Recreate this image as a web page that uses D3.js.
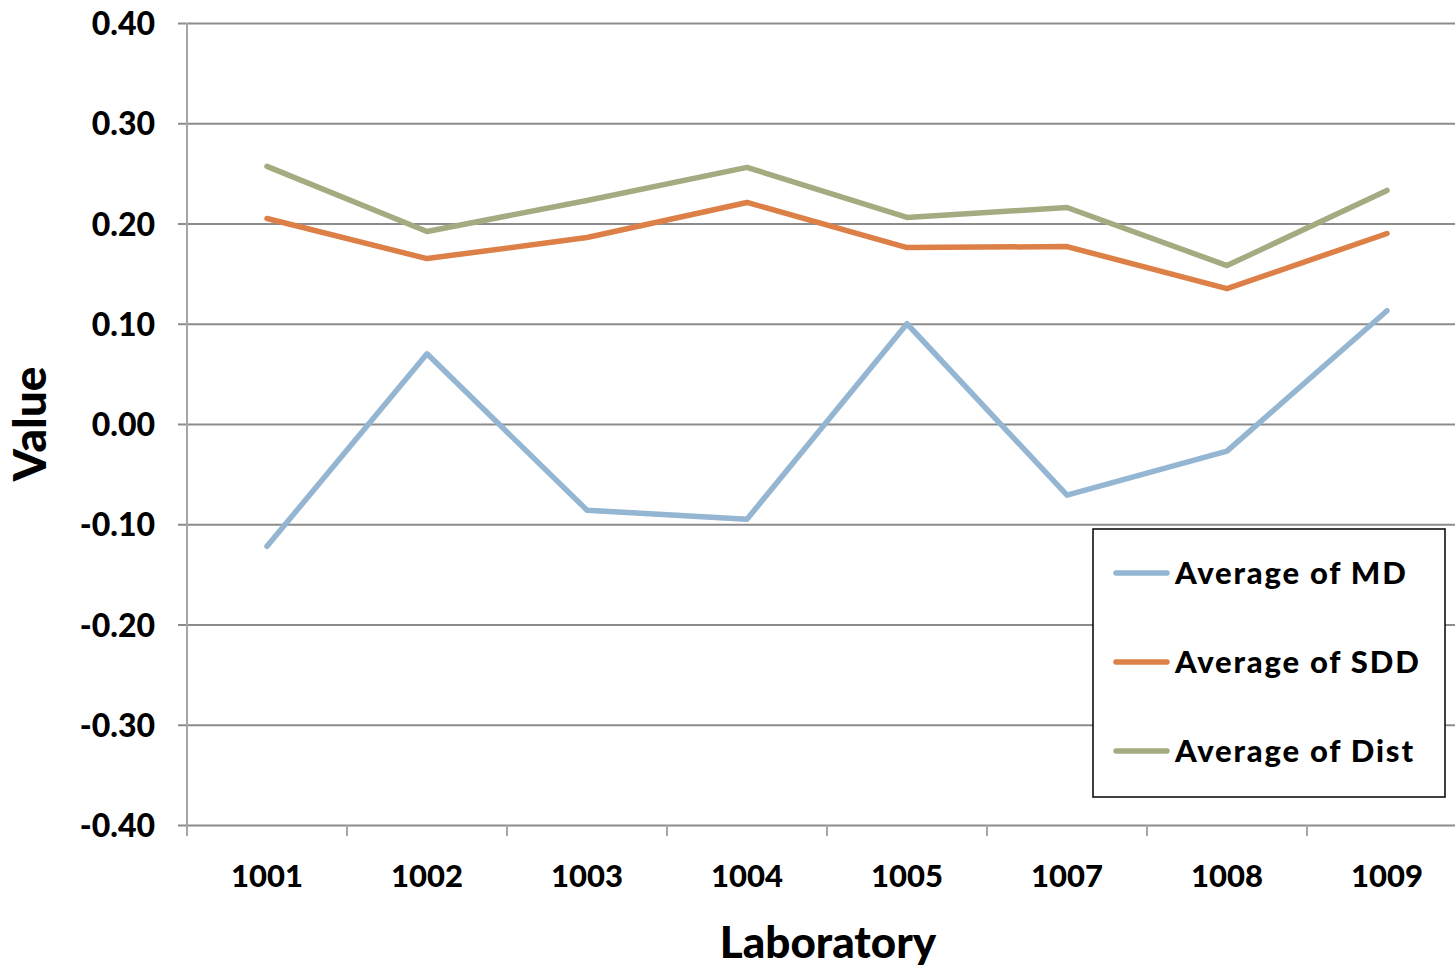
<!DOCTYPE html>
<html>
<head>
<meta charset="utf-8">
<script src="https://cdn.jsdelivr.net/npm/d3@7"></script>
<style>
  body { margin: 0; background: #fff; }
  text { font-family: 'Lato', 'DejaVu Sans', sans-serif; font-weight: 900; fill: #000; }
</style>
</head>
<body>
<div id="viz"></div>
<script>
const width = 1455;
const height = 966;
const margin = {top: 23, right: -12, bottom: 141, left: 187};

// data
const labs = ['1001', '1002', '1003', '1004', '1005', '1007', '1008', '1009'];
const avgMD = [-0.122, 0.070, -0.086, -0.095, 0.100, -0.071, -0.027, 0.113];
const avgSDD = [0.205, 0.165, 0.186, 0.221, 0.176, 0.177, 0.135, 0.190];
const avgDist = [0.257, 0.192, 0.223, 0.256, 0.206, 0.216, 0.158, 0.233];
const yTicks = [-0.4, -0.3, -0.2, -0.1, 0, 0.1, 0.2, 0.3, 0.4];

const series = [
  {name: 'Average of MD', values: avgMD, color: '#94b6d2'},
  {name: 'Average of SDD', values: avgSDD, color: '#dd8047'},
  {name: 'Average of Dist', values: avgDist, color: '#a5ab81'}
];

const svg = d3.select('#viz')
  .append('svg')
    .attr('width', width)
    .attr('height', height);

const xScale = d3.scaleBand()
  .domain(labs)
  .range([margin.left, width - margin.right])
  .padding(0);

const yScale = d3.scaleLinear()
  .domain([-0.4, 0.4])
  .range([height - margin.bottom, margin.top]);

// plain hyphen for negatives, like the original
const fmt = d => d3.format('.2f')(d).replace('−', '-');

// horizontal gridlines + y axis
const yAxis = svg.append('g')
  .attr('transform', `translate(${margin.left}, 0)`)
  .call(d3.axisLeft(yScale)
    .tickValues(yTicks)
    .tickFormat(fmt)
    .tickSize(-(width - margin.left + 10))
    .tickPadding(32));
yAxis.select('.domain').remove();
yAxis.selectAll('.tick line')
  .attr('x1', -9)
  .attr('x2', width)
  .attr('stroke', '#8c8c8c')
  .attr('stroke-width', 2);
yAxis.selectAll('.tick text')
  .style('font-size', '32px')
  .attr('dy', '0.36em');

// vertical axis line
svg.append('line')
  .attr('x1', margin.left).attr('x2', margin.left)
  .attr('y1', margin.top).attr('y2', height - margin.bottom + 11)
  .attr('stroke', '#a6a6a6')
  .attr('stroke-width', 2);

// x axis
const xAxis = svg.append('g')
  .attr('transform', `translate(0, ${height - margin.bottom})`)
  .call(d3.axisBottom(xScale).tickSize(0).tickPadding(40));
xAxis.select('.domain').remove();
xAxis.selectAll('.tick text').style('font-size', '31px');

// category boundary ticks
svg.append('g')
  .selectAll('line')
  .data(labs)
  .join('line')
    .attr('x1', d => xScale(d) + xScale.bandwidth())
    .attr('x2', d => xScale(d) + xScale.bandwidth())
    .attr('y1', height - margin.bottom)
    .attr('y2', height - margin.bottom + 11)
    .attr('stroke', '#a6a6a6')
    .attr('stroke-width', 2);

// lines
const lineGen = d3.line()
  .x((d, i) => xScale(labs[i]) + xScale.bandwidth() / 2)
  .y(d => yScale(d));

svg.append('g')
  .selectAll('path')
  .data(series)
  .join('path')
    .attr('d', d => lineGen(d.values))
    .attr('fill', 'none')
    .attr('stroke', d => d.color)
    .attr('stroke-width', 5.5)
    .attr('stroke-linejoin', 'round')
    .attr('stroke-linecap', 'round');

// axis titles
svg.append('text')
  .attr('x', 828)
  .attr('y', 958)
  .attr('text-anchor', 'middle')
  .style('font-size', '44px')
  .text('Laboratory');

svg.append('text')
  .attr('transform', 'translate(46, 424) rotate(-90)')
  .attr('text-anchor', 'middle')
  .style('font-size', '46px')
  .text('Value');

// legend
const legend = svg.append('g').attr('transform', 'translate(1093, 529)');
legend.append('rect')
  .attr('width', 352)
  .attr('height', 268)
  .attr('fill', '#fff')
  .attr('stroke', '#000')
  .attr('stroke-width', 1.5);

const items = legend.selectAll('g')
  .data(series)
  .join('g')
    .attr('transform', (d, i) => `translate(0, ${44 + i * 89})`);
items.append('line')
  .attr('x1', 23).attr('x2', 74)
  .attr('stroke', d => d.color)
  .attr('stroke-width', 5.5)
  .attr('stroke-linecap', 'round');
items.append('text')
  .attr('x', 82)
  .attr('dy', '0.36em')
  .style('font-size', '31px')
  .style('letter-spacing', '1.8px')
  .text(d => d.name);
</script>
</body>
</html>
